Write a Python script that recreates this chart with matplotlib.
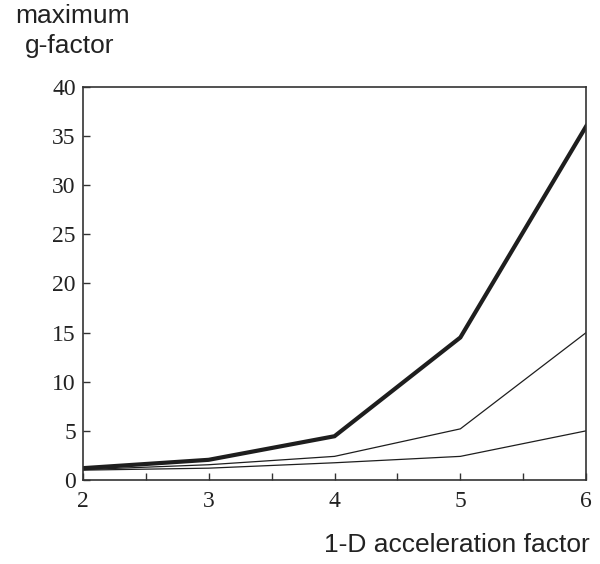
import numpy as np
import matplotlib.pyplot as plt

# datos
accel = [2, 3, 4, 5, 6]
g_top = [1.2, 2.05, 4.45, 14.5, 36.0]
g_mid = [1.05, 1.55, 2.4, 5.2, 15.0]
g_low = [1.0, 1.2, 1.75, 2.4, 5.0]

xticks = [2, 3, 4, 5, 6]
yticks = [0, 5, 10, 15, 20, 25, 30, 35, 40]

fig = plt.figure(figsize=(6.0, 5.64), dpi=100)
ax = fig.add_axes([0.138, 0.149, 0.839, 0.697])

ax.plot(accel, g_top, color="#1e1e1e", lw=3.0, solid_joinstyle="miter")
ax.plot(accel, g_mid, color="#1e1e1e", lw=0.9)
ax.plot(accel, g_low, color="#1e1e1e", lw=0.9)

ax.set_xlim(2, 6)
ax.set_ylim(0, 40)
ax.set_xticks(xticks)
ax.set_xticks(np.arange(2.5, 6, 1.0), minor=True)
ax.set_yticks(yticks)
ax.tick_params(direction="in", length=5, width=1, color="#333333",
               labelsize=17)
ax.tick_params(axis="x", which="minor", direction="in", length=5, width=1,
               color="#333333")
ax.tick_params(axis="x", pad=8)
ax.tick_params(axis="y", pad=5)
for lab in ax.get_xticklabels() + ax.get_yticklabels():
    lab.set_family("Liberation Serif")
    lab.set_color("#222222")

for s in ax.spines.values():
    s.set_color("#333333")
    s.set_linewidth(1.2)

fig.text(0.025, 0.972, "maximum", fontsize=19, family="Liberation Sans",
         color="#222222", va="center", ha="left")
fig.text(0.042, 0.918, "g-factor", fontsize=19, family="Liberation Sans",
         color="#222222", va="center", ha="left")
fig.text(0.983, 0.034, "1-D acceleration factor", fontsize=19,
         family="Liberation Sans", color="#222222", va="center", ha="right")

fig.savefig("out.png", dpi=100)
